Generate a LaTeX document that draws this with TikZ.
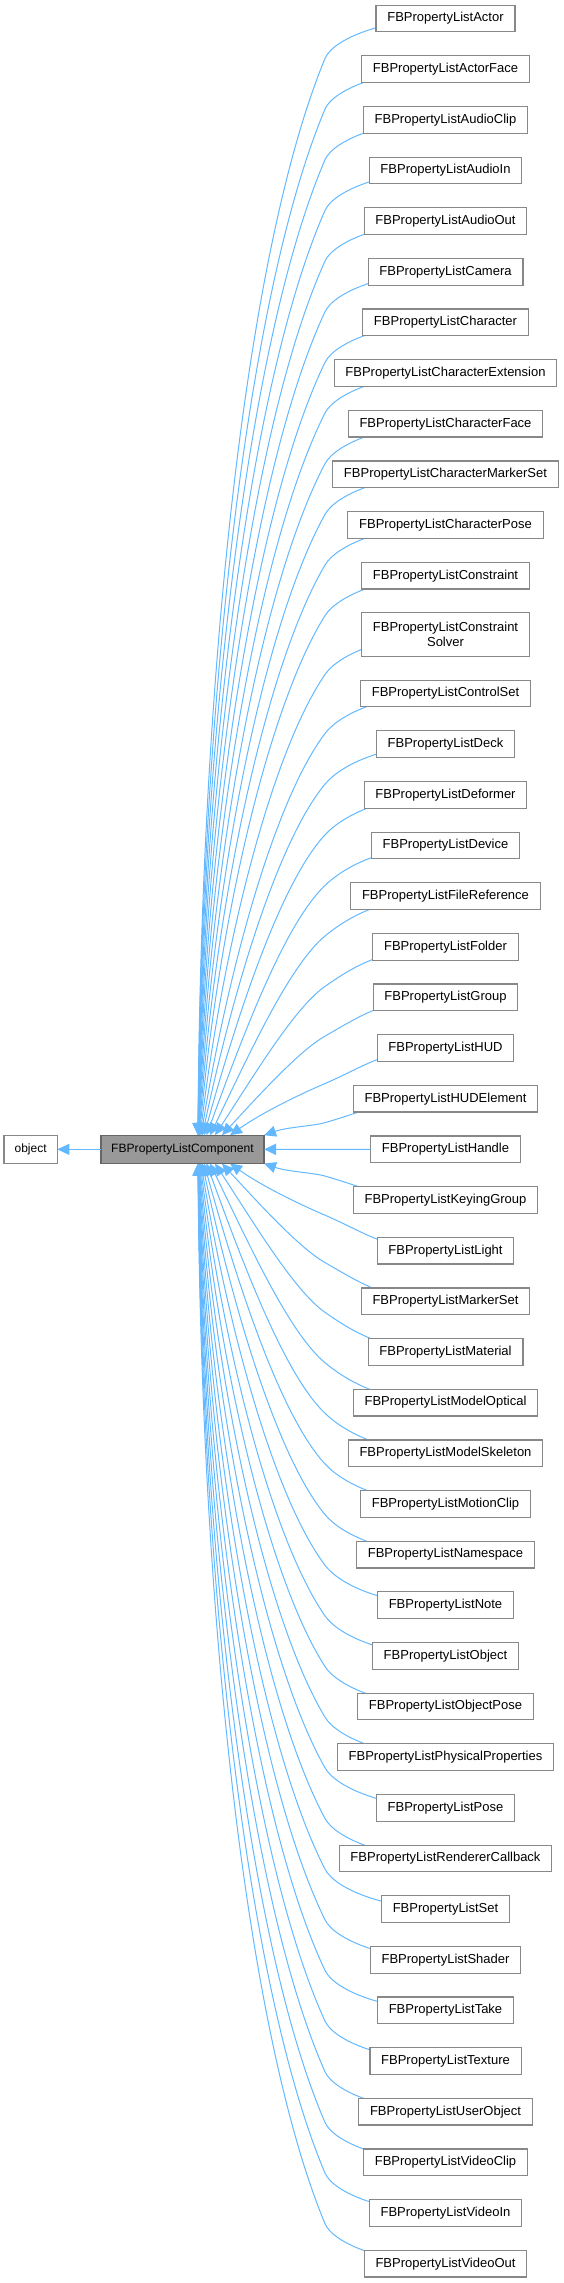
\documentclass[tikz,border=0pt]{standalone}
\usepackage{fontspec}
\setmainfont{Liberation Sans}
\usetikzlibrary{arrows.meta,backgrounds,calc}
\definecolor{edgeblue}{HTML}{63B8FF}
\definecolor{boxborder}{HTML}{888888}
\definecolor{compfill}{HTML}{999999}
\definecolor{compborder}{HTML}{666666}
\tikzset{
  subbox/.style={draw=boxborder, fill=white, line width=1.2pt, minimum height=26.7pt,
    inner xsep=11.3pt, inner ysep=0pt, outer sep=0pt,
    font=\fontsize{13}{15.5}\selectfont, align=center},
  compbox/.style={draw=compborder, fill=compfill, line width=1.2pt, minimum width=163pt,
    minimum height=28.3pt, inner sep=0pt, outer sep=0pt, font=\fontsize{12.1}{14}\selectfont},
  objbox/.style={draw=boxborder, fill=white, line width=1.2pt, minimum width=53.3pt,
    minimum height=28.3pt, inner sep=0pt, outer sep=0pt, font=\fontsize{12}{14}\selectfont},
  inh/.style={draw=edgeblue, line width=1pt, -{Triangle[length=12pt,width=11pt]}}
}
\begin{document}
\begin{tikzpicture}[x=1pt,y=1pt]
\useasboundingbox (0,0) rectangle (564,-2283);
\node[compbox] (comp) at (182.5,-1149.35) {FBPropertyListComponent};
\node[objbox] (obj) at (30.65,-1149.35) {object};
\foreach \i/\lab in {0/FBPropertyListActor,1/FBPropertyListActorFace,2/FBPropertyListAudioClip,
  3/FBPropertyListAudioIn,4/FBPropertyListAudioOut,5/FBPropertyListCamera,6/FBPropertyListCharacter,
  7/FBPropertyListCharacterExtension,8/FBPropertyListCharacterFace,9/FBPropertyListCharacterMarkerSet,
  10/FBPropertyListCharacterPose,11/FBPropertyListConstraint,12/{FBPropertyListConstraint\\Solver},
  13/FBPropertyListControlSet,14/FBPropertyListDeck,15/FBPropertyListDeformer,16/FBPropertyListDevice,
  17/FBPropertyListFileReference,18/FBPropertyListFolder,19/FBPropertyListGroup,20/FBPropertyListHUD,
  21/FBPropertyListHUDElement,22/FBPropertyListHandle,23/FBPropertyListKeyingGroup,24/FBPropertyListLight,
  25/FBPropertyListMarkerSet,26/FBPropertyListMaterial,27/FBPropertyListModelOptical,
  28/FBPropertyListModelSkeleton,29/FBPropertyListMotionClip,30/FBPropertyListNamespace,
  31/FBPropertyListNote,32/FBPropertyListObject,33/FBPropertyListObjectPose,
  34/FBPropertyListPhysicalProperties,35/FBPropertyListPose,36/FBPropertyListRendererCallback,
  37/FBPropertyListSet,38/FBPropertyListShader,39/FBPropertyListTake,40/FBPropertyListTexture,
  41/FBPropertyListUserObject,42/FBPropertyListVideoClip,43/FBPropertyListVideoIn,44/FBPropertyListVideoOut} {
  \pgfmathsetmacro\qyc{\i<12 ? 18.5+50.65*\i : (\i==12 ? 634.5 : 693.5+50.65*(\i-13))}
  \def\qmh{26.7pt}
  \ifnum\i=12 \def\qmh{43.6pt}\fi
  \node[subbox, minimum height=\qmh] (c\i) at (445.5,-\qyc) {\lab};
}
\begin{pgfonlayer}{background}
\foreach \i in {0,...,44} {
  \ifnum\i=22\relax\else
  \pgfmathsetmacro\qyc{\i<12 ? 18.5+50.65*\i : (\i==12 ? 634.5 : 693.5+50.65*(\i-13))}
  \pgfmathsetmacro\qsg{\i<22 ? 1 : -1}
  \pgfmathsetmacro\qd{abs(\i-22)}
  \pgfmathsetmacro\qtx{\qd==1 ? 264 : (\qd==2 ? 230 : 198+24*exp(-min((\qd-3)/2.9,9)))}
  \pgfmathsetmacro\qTy{\i<22 ? -1135.2 : -1163.5}
  \pgfmathsetmacro\qdy{abs(-\qyc - \qTy)}
  \pgfmathsetmacro\qh{40*(1-exp(-min(\qdy/40,9)))}
  \pgfmathsetmacro\qth{10+60*(1-exp(-min(\qdy/350,9)))}
  \pgfmathsetmacro\qph{90-85*exp(-min(\qdy/200,9))}
  \pgfmathsetmacro\qe{min(50, 0.5*\qh/sin(\qth))}
  \pgfmathsetmacro\qMy{-\qyc - \qsg*\qh}
  \pgfmathsetmacro\qL{100*veclen((325-\qtx)/100, (\qMy-\qTy)/100)}
  \pgfmathsetmacro\qs{0.2*\qL}
  \pgfmathsetmacro\qss{0.4*\qL}
  \ifnum\i<22 \def\qanc{north west}\else \def\qanc{south west}\fi
  \draw[inh] (c\i.center) .. controls (385.5,-\qyc) and ({325+\qe*cos(\qth)},{\qMy+\qsg*\qe*sin(\qth)})
     .. (325,\qMy) .. controls ({325-\qs*cos(\qth)},{\qMy-\qsg*\qs*sin(\qth)})
     and ($(comp.\qanc)+({\qtx-101+\qss*cos(\qph)},{\qsg*\qss*sin(\qph)})$)
     .. ($(comp.\qanc)+({\qtx-101},0)$);
  \fi
}
\end{pgfonlayer}
\draw[inh] (c22) -- (comp);
\draw[inh] (comp) -- (obj);
\end{tikzpicture}
\end{document}
